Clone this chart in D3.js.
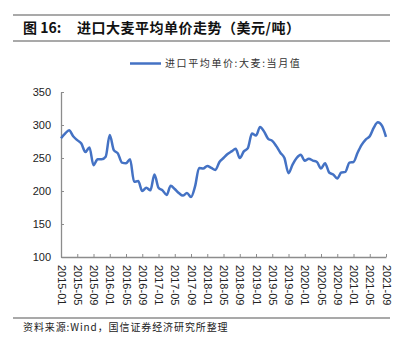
<!DOCTYPE html>
<html>
<head>
<meta charset="utf-8">
<script src="https://cdn.jsdelivr.net/npm/d3@7"></script>
<style>
  body { margin: 0; background: #fff; }
  text { font-family: "Liberation Sans", Arial, "Noto Sans CJK SC", sans-serif; }
  .cjk { font-family: "Noto Sans CJK SC", sans-serif; }
</style>
</head>
<body>
<svg id="chart" width="411" height="354"></svg>
<script>
// monthly import price of barley, USD/ton, 2015-01 .. 2021-09
var months = d3.timeMonth.range(new Date(2015, 0, 1), new Date(2021, 9, 1)).map(d3.timeFormat("%Y-%m"))
var prices = [280, 287, 292, 283, 277, 272, 259, 266, 239, 248, 248, 252,
              285, 262, 257, 243, 242, 248, 214, 215, 200, 205, 201, 225,
              205, 201, 194, 208, 203, 197, 193, 197, 191, 207, 235, 234,
              238, 235, 232, 244, 250, 256, 260, 264, 250, 260, 265, 287,
              284, 297, 290, 279, 276, 268, 258, 250, 227, 240, 250, 255,
              246, 249, 246, 244, 234, 242, 228, 225, 219, 228, 229, 243,
              244, 258, 270, 278, 283, 296, 304, 299, 282]
var yTicks = [100, 150, 200, 250, 300, 350]
var xTickLabels = months.filter((d, i) => i % 4 == 0)
var seriesName = "进口平均单价:大麦:当月值"
var titleNo = "图 16:"
var titleText = "进口大麦平均单价走势（美元/吨）"
var sourceText = "资料来源:Wind，国信证券经济研究所整理"

var svg = d3.select("#chart")
var m = {left: 61, right: 386, top: 92, bottom: 257}

// header rules + title
svg.selectAll(".rule").data([15, 41, 318]).join("line").attr("class", "rule")
    .attr("x1", 13).attr("x2", 390).attr("y1", d => d).attr("y2", d => d)
    .attr("stroke", "#8c8c8c").attr("stroke-width", 1.3)
svg.append("text").attr("class", "cjk").attr("x", 23).attr("y", 33)
    .attr("font-size", 14).attr("font-weight", "bold").attr("fill", "#111").text(titleNo)
svg.append("text").attr("class", "cjk").attr("x", 77).attr("y", 33)
    .attr("font-size", 14).attr("font-weight", "bold").attr("letter-spacing", 0.5).attr("fill", "#111").text(titleText)

// legend
svg.append("line").attr("x1", 130).attr("x2", 161).attr("y1", 63.5).attr("y2", 63.5)
    .attr("stroke", "#4472c4").attr("stroke-width", 2.5)
svg.append("text").attr("class", "cjk").attr("x", 165).attr("y", 67)
    .attr("font-size", 10).attr("letter-spacing", 1.6).attr("fill", "#333").text(seriesName)

var x = d3.scalePoint().domain(months).range([m.left, m.right])
var y = d3.scaleLinear().domain([100, 350]).range([m.bottom, m.top])

// y axis
var gy = svg.append("g").attr("transform", "translate(" + m.left + ",0)")
    .call(d3.axisLeft(y).tickValues(yTicks).tickSize(-3).tickPadding(10).tickSizeOuter(0))
gy.select(".domain").attr("stroke", "#8c8c8c").attr("stroke-width", 1.3)
gy.selectAll("line").attr("stroke", "#8c8c8c")
gy.selectAll("text").attr("font-size", 11).attr("fill", "#222")

// x axis
var gx = svg.append("g").attr("transform", "translate(0," + m.bottom + ")")
    .call(d3.axisBottom(x).tickValues(xTickLabels).tickSize(-3).tickSizeOuter(0))
gx.select(".domain").attr("stroke", "#8c8c8c").attr("stroke-width", 1.3)
gx.selectAll("line").attr("stroke", "#8c8c8c")
gx.selectAll("text").attr("font-size", 11).attr("fill", "#222")
    .attr("transform", "rotate(90)").attr("text-anchor", "start")
    .attr("x", 8).attr("y", 0).attr("dy", "0.35em")

// series line
var line = d3.line().x((d, i) => x(months[i])).y(d => y(d)).curve(d3.curveMonotoneX)
svg.append("path").datum(prices).attr("d", line)
    .attr("fill", "none").attr("stroke", "#4472c4").attr("stroke-width", 2.5)
    .attr("stroke-linejoin", "round")

// source note
svg.append("text").attr("class", "cjk").attr("x", 23).attr("y", 331)
    .attr("font-size", 10).attr("letter-spacing", 0.9).attr("fill", "#222").text(sourceText)
</script>
</body>
</html>
